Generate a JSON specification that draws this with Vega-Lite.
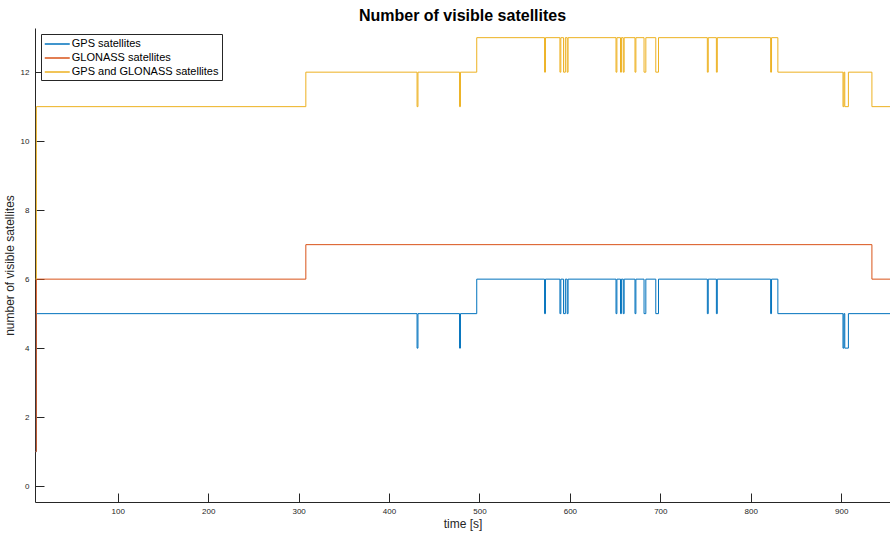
{
  "$schema": "https://vega.github.io/schema/vega-lite/v6.json",
  "width": 855,
  "height": 474,
  "autosize": {"type": "none"},
  "padding": {"left": 35, "top": 28, "right": 0, "bottom": 34},
  "background": "white",
  "config": {
    "view": {"stroke": null},
    "font": "Liberation Sans",
    "axis": {
      "domainColor": "#262626",
      "domainWidth": 1,
      "tickColor": "#262626",
      "tickWidth": 1,
      "tickSize": -9,
      "labelColor": "#262626",
      "labelFontSize": 8,
      "labelFont": "Liberation Sans",
      "titleFont": "Liberation Sans",
      "titleFontSize": 12,
      "titleFontWeight": "normal",
      "titleColor": "#262626",
      "grid": false
    }
  },
  "title": {
    "text": "Number of visible satellites",
    "fontSize": 16,
    "fontWeight": "bold",
    "font": "Liberation Sans",
    "color": "black",
    "offset": 4,
    "anchor": "middle"
  },
  "data": {
    "values": [
      {"series": "GPS satellites", "t": 9, "n": 1},
      {"series": "GPS satellites", "t": 10, "n": 5},
      {"series": "GPS satellites", "t": 431, "n": 4},
      {"series": "GPS satellites", "t": 432, "n": 5},
      {"series": "GPS satellites", "t": 478, "n": 4},
      {"series": "GPS satellites", "t": 479, "n": 5},
      {"series": "GPS satellites", "t": 497, "n": 6},
      {"series": "GPS satellites", "t": 572, "n": 5},
      {"series": "GPS satellites", "t": 573, "n": 6},
      {"series": "GPS satellites", "t": 589, "n": 5},
      {"series": "GPS satellites", "t": 590, "n": 6},
      {"series": "GPS satellites", "t": 593, "n": 5},
      {"series": "GPS satellites", "t": 595, "n": 6},
      {"series": "GPS satellites", "t": 597, "n": 5},
      {"series": "GPS satellites", "t": 598, "n": 6},
      {"series": "GPS satellites", "t": 651, "n": 5},
      {"series": "GPS satellites", "t": 652, "n": 6},
      {"series": "GPS satellites", "t": 656, "n": 5},
      {"series": "GPS satellites", "t": 657, "n": 6},
      {"series": "GPS satellites", "t": 659, "n": 5},
      {"series": "GPS satellites", "t": 660, "n": 6},
      {"series": "GPS satellites", "t": 672, "n": 5},
      {"series": "GPS satellites", "t": 673, "n": 6},
      {"series": "GPS satellites", "t": 682, "n": 5},
      {"series": "GPS satellites", "t": 684, "n": 6},
      {"series": "GPS satellites", "t": 695, "n": 5},
      {"series": "GPS satellites", "t": 698, "n": 6},
      {"series": "GPS satellites", "t": 752, "n": 5},
      {"series": "GPS satellites", "t": 753, "n": 6},
      {"series": "GPS satellites", "t": 762, "n": 5},
      {"series": "GPS satellites", "t": 763, "n": 6},
      {"series": "GPS satellites", "t": 822, "n": 5},
      {"series": "GPS satellites", "t": 823, "n": 6},
      {"series": "GPS satellites", "t": 830, "n": 5},
      {"series": "GPS satellites", "t": 902, "n": 4},
      {"series": "GPS satellites", "t": 903, "n": 5},
      {"series": "GPS satellites", "t": 904, "n": 4},
      {"series": "GPS satellites", "t": 908, "n": 5},
      {"series": "GPS satellites", "t": 954, "n": 5},

      {"series": "GLONASS satellites", "t": 9, "n": 1},
      {"series": "GLONASS satellites", "t": 10, "n": 6},
      {"series": "GLONASS satellites", "t": 308, "n": 7},
      {"series": "GLONASS satellites", "t": 934, "n": 6},
      {"series": "GLONASS satellites", "t": 954, "n": 6},

      {"series": "GPS and GLONASS satellites", "t": 9, "n": 6},
      {"series": "GPS and GLONASS satellites", "t": 10, "n": 11},
      {"series": "GPS and GLONASS satellites", "t": 308, "n": 12},
      {"series": "GPS and GLONASS satellites", "t": 431, "n": 11},
      {"series": "GPS and GLONASS satellites", "t": 432, "n": 12},
      {"series": "GPS and GLONASS satellites", "t": 478, "n": 11},
      {"series": "GPS and GLONASS satellites", "t": 479, "n": 12},
      {"series": "GPS and GLONASS satellites", "t": 497, "n": 13},
      {"series": "GPS and GLONASS satellites", "t": 572, "n": 12},
      {"series": "GPS and GLONASS satellites", "t": 573, "n": 13},
      {"series": "GPS and GLONASS satellites", "t": 589, "n": 12},
      {"series": "GPS and GLONASS satellites", "t": 590, "n": 13},
      {"series": "GPS and GLONASS satellites", "t": 593, "n": 12},
      {"series": "GPS and GLONASS satellites", "t": 595, "n": 13},
      {"series": "GPS and GLONASS satellites", "t": 597, "n": 12},
      {"series": "GPS and GLONASS satellites", "t": 598, "n": 13},
      {"series": "GPS and GLONASS satellites", "t": 651, "n": 12},
      {"series": "GPS and GLONASS satellites", "t": 652, "n": 13},
      {"series": "GPS and GLONASS satellites", "t": 656, "n": 12},
      {"series": "GPS and GLONASS satellites", "t": 657, "n": 13},
      {"series": "GPS and GLONASS satellites", "t": 659, "n": 12},
      {"series": "GPS and GLONASS satellites", "t": 660, "n": 13},
      {"series": "GPS and GLONASS satellites", "t": 672, "n": 12},
      {"series": "GPS and GLONASS satellites", "t": 673, "n": 13},
      {"series": "GPS and GLONASS satellites", "t": 682, "n": 12},
      {"series": "GPS and GLONASS satellites", "t": 684, "n": 13},
      {"series": "GPS and GLONASS satellites", "t": 695, "n": 12},
      {"series": "GPS and GLONASS satellites", "t": 698, "n": 13},
      {"series": "GPS and GLONASS satellites", "t": 752, "n": 12},
      {"series": "GPS and GLONASS satellites", "t": 753, "n": 13},
      {"series": "GPS and GLONASS satellites", "t": 762, "n": 12},
      {"series": "GPS and GLONASS satellites", "t": 763, "n": 13},
      {"series": "GPS and GLONASS satellites", "t": 822, "n": 12},
      {"series": "GPS and GLONASS satellites", "t": 823, "n": 13},
      {"series": "GPS and GLONASS satellites", "t": 830, "n": 12},
      {"series": "GPS and GLONASS satellites", "t": 902, "n": 11},
      {"series": "GPS and GLONASS satellites", "t": 903, "n": 12},
      {"series": "GPS and GLONASS satellites", "t": 904, "n": 11},
      {"series": "GPS and GLONASS satellites", "t": 908, "n": 12},
      {"series": "GPS and GLONASS satellites", "t": 934, "n": 11},
      {"series": "GPS and GLONASS satellites", "t": 954, "n": 11}
    ]
  },
  "mark": {"type": "line", "interpolate": "step-after", "strokeWidth": 1, "clip": true},
  "encoding": {
    "x": {
      "field": "t",
      "type": "quantitative",
      "scale": {"domain": [8.5, 954], "nice": false, "zero": false},
      "axis": {
        "values": [100, 200, 300, 400, 500, 600, 700, 800, 900],
        "title": "time [s]",
        "labelPadding": 14,
        "titlePadding": 3
      }
    },
    "y": {
      "field": "n",
      "type": "quantitative",
      "scale": {"domain": [-0.46, 13.28], "nice": false, "zero": false},
      "axis": {
        "values": [0, 2, 4, 6, 8, 10, 12],
        "title": "number of visible satellites",
        "labelPadding": 15,
        "titlePadding": 4
      }
    },
    "color": {
      "field": "series",
      "type": "nominal",
      "scale": {
        "domain": ["GPS satellites", "GLONASS satellites", "GPS and GLONASS satellites"],
        "range": ["#0072BD", "#D95319", "#EDB120"]
      },
      "legend": {
        "title": null,
        "orient": "none",
        "legendX": 6,
        "legendY": 6,
        "symbolType": "M-2,0H2",
        "symbolSize": 156,
        "symbolStrokeWidth": 1.5,
        "symbolOffset": 6.25,
        "labelFontSize": 11,
        "labelFont": "Liberation Sans",
        "labelColor": "black",
        "labelOffset": 7.5,
        "labelExpr": "datum.label + '\u00a0\u00a0\u00a0'",
        "strokeColor": "#262626",
        "fillColor": "white",
        "padding": 3,
        "rowPadding": 2
      }
    }
  }
}
